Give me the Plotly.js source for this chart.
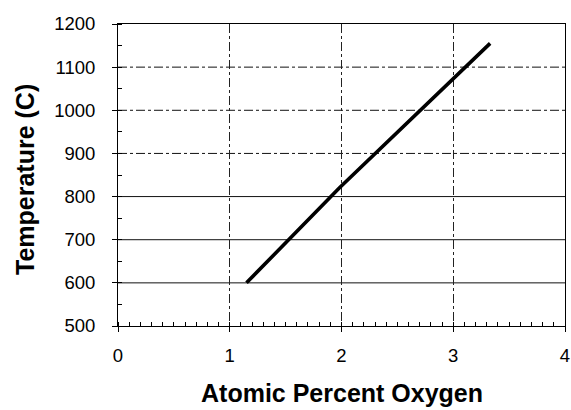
<!DOCTYPE html>
<html>
<head>
<meta charset="utf-8">
<script src="https://cdn.plot.ly/plotly-3.0.1.min.js"></script>
<style>
  html, body { margin: 0; padding: 0; background: #fff; }
  #chart { width: 571px; height: 410px; }
</style>
</head>
<body>
<div id="chart"></div>
<script>
// Phase boundary: temperature vs. oxygen content
const oxygenPct = [1.15, 1.98, 3.33];
const temperatureC = [600, 820, 1155];

// Axis ticks
const xTicks = [0, 1, 2, 3, 4];
const yTicks = [500, 600, 700, 800, 900, 1000, 1100, 1200];

// Horizontal reference lines: lower ones solid, upper ones dash-dot
const solidGrid = [600, 700, 800];
const dashGrid = [900, 1000, 1100];

const FONT = '"Liberation Sans", Arial, sans-serif';

const hLine = (v, dash) => ({
  type: 'line', xref: 'paper', x0: 0, x1: 1, yref: 'y', y0: v, y1: v,
  line: { color: '#111', width: 1, dash: dash }, layer: 'below'
});

const shapes = solidGrid.map(v => hLine(v, 'solid'))
  .concat(dashGrid.map(v => hLine(v, 'dashdot')));

const trace = {
  x: oxygenPct,
  y: temperatureC,
  type: 'scatter',
  mode: 'lines',
  line: { color: '#000', width: 3.6 },
  hoverinfo: 'skip'
};

const layout = {
  width: 571, height: 410,
  margin: { l: 118, r: 6, t: 24, b: 84 },
  paper_bgcolor: '#fff', plot_bgcolor: '#fff',
  showlegend: false,
  font: { family: FONT, color: '#000', size: 18 },
  xaxis: {
    range: [0, 4],
    tickvals: xTicks,
    ticktext: xTicks.map(String),
    showline: true, linecolor: '#000', linewidth: 1, mirror: true,
    ticks: 'outside', ticklen: 5, tickcolor: '#000', tickwidth: 1,
    ticklabelstandoff: 8,
    showgrid: true, gridcolor: '#222', gridwidth: 1, griddash: 'dashdot',
    zeroline: false,
    minor: { dtick: 0.1, ticks: 'inside', ticklen: 4, tickcolor: '#000', showgrid: false },
    tickfont: { size: 18.5, family: FONT }
  },
  yaxis: {
    range: [500, 1200],
    tickvals: yTicks,
    ticktext: yTicks.map(String),
    showline: true, linecolor: '#000', linewidth: 1, mirror: true,
    ticks: 'outside', ticklen: 5, tickcolor: '#000', tickwidth: 1,
    ticklabelstandoff: 13,
    showgrid: false,
    zeroline: false,
    minor: { dtick: 50, ticks: 'inside', ticklen: 4, tickcolor: '#000', showgrid: false },
    tickfont: { size: 18.5, family: FONT }
  },
  shapes: shapes,
  annotations: [
    {
      text: '<b>Atomic Percent Oxygen</b>',
      xref: 'paper', yref: 'paper', x: 0.5, y: 0,
      xanchor: 'center', yanchor: 'middle', yshift: -67,
      showarrow: false, font: { family: FONT, size: 25, color: '#000' }
    },
    {
      text: '<b>Temperature (C)</b>',
      xref: 'paper', yref: 'paper', x: 0, y: 0.5,
      xanchor: 'center', yanchor: 'middle', xshift: -93, yshift: -5,
      textangle: -90,
      showarrow: false, font: { family: FONT, size: 25, color: '#000' }
    }
  ]
};

Plotly.newPlot('chart', [trace], layout, { staticPlot: true, displayModeBar: false });
</script>
</body>
</html>
